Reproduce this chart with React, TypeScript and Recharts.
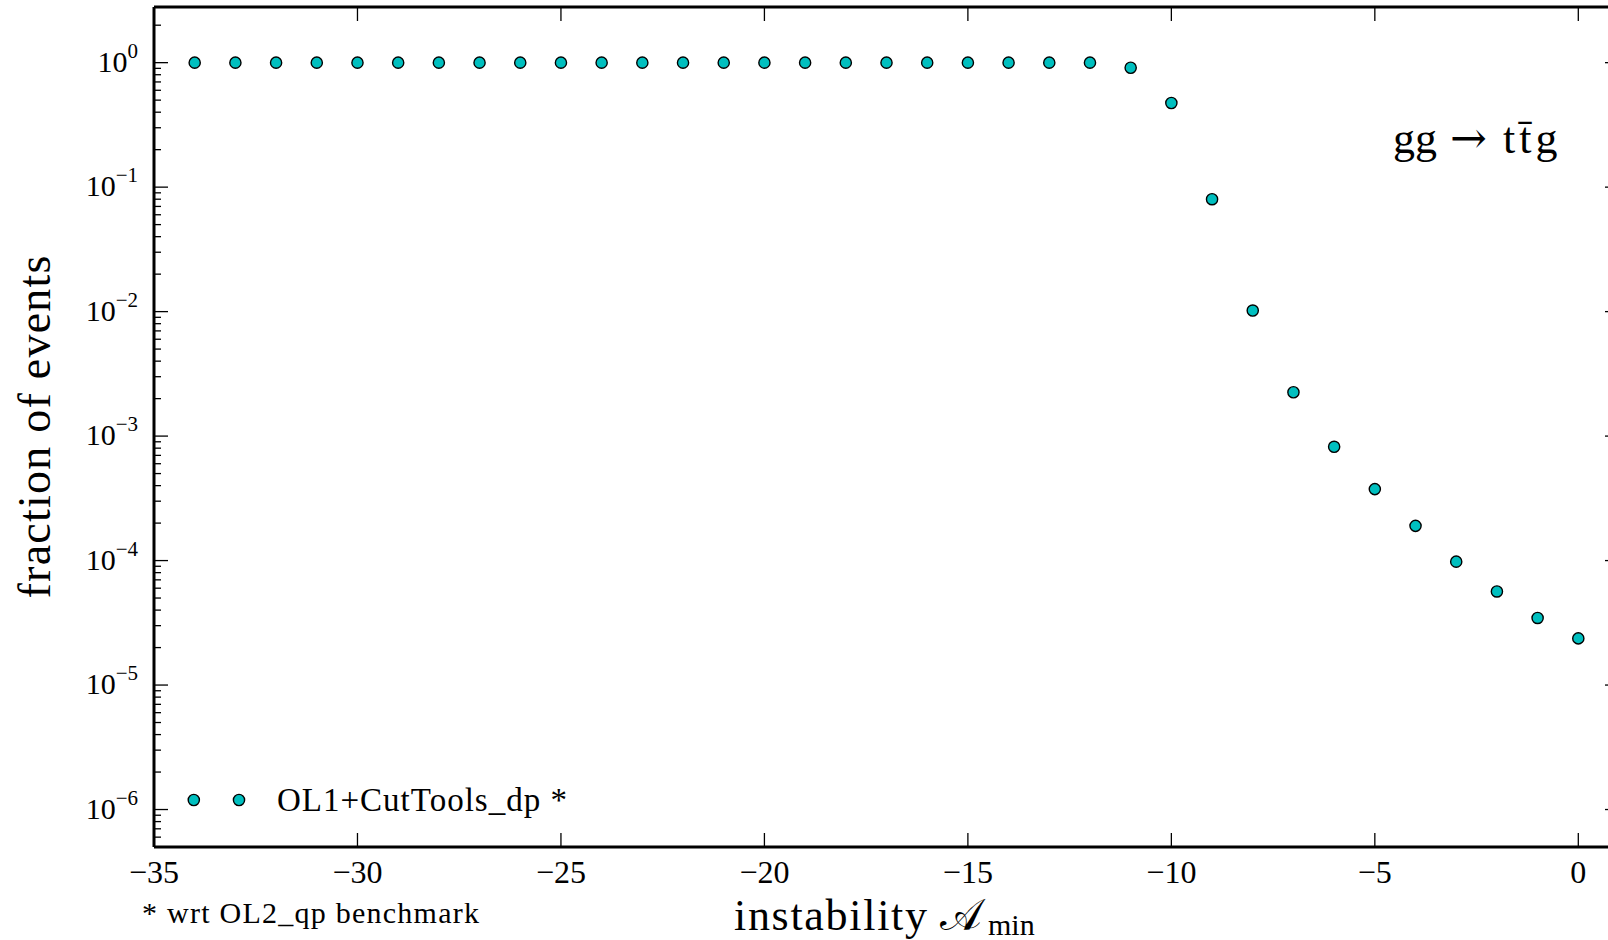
import { ScatterChart, Scatter, XAxis, YAxis, Legend, Customized, ReferenceLine } from "recharts";

// instability A_min (x) and fraction of events (y)
const xValues = [
  -34, -33, -32, -31, -30, -29, -28, -27, -26, -25, -24, -23, -22, -21, -20, -19, -18,
  -17, -16, -15, -14, -13, -12, -11, -10, -9, -8, -7, -6, -5, -4, -3, -2, -1, 0,
];
const fractionValues = [
  1, 1, 1, 1, 1, 1, 1, 1, 1, 1, 1, 1, 1, 1, 1, 1, 1,
  1, 1, 1, 1, 1, 1, 0.91, 0.474, 0.08, 0.0102, 0.00225, 0.00082, 0.000375, 0.00019,
  0.000098, 0.0000565, 0.0000346, 0.0000237,
];

const xTicks = [-35, -30, -25, -20, -15, -10, -5, 0];
const yMajorTicks = [1e-6, 1e-5, 1e-4, 1e-3, 1e-2, 1e-1, 1];
const yMinorMantissas = [2, 3, 4, 5, 6, 7, 8, 9];
const yMinorDecades = [1e-7, 1e-6, 1e-5, 1e-4, 1e-3, 1e-2, 1e-1, 1];

const X_DOMAIN: [number, number] = [-35, 1];
const Y_DOMAIN: [number, number] = [5e-7, 2.8];

const yMinorTicks = yMinorDecades
  .flatMap((d) => yMinorMantissas.map((m) => m * d))
  .filter((v) => v >= Y_DOMAIN[0] && v <= Y_DOMAIN[1]);

const data = xValues.map((x, i) => ({ x, y: fractionValues[i] }));

const FONT = '"Liberation Serif", "DejaVu Serif", serif';
const MARKER = "#00BFBF";

const spine = { stroke: "#000", strokeWidth: 3 };

function XTick({ x, y, payload }: any) {
  const v = payload.value;
  const s = v < 0 ? `\u2212${-v}` : `${v}`;
  return (
    <text x={x} y={y + 36} textAnchor="middle" fontFamily={FONT} fontSize={32} fill="#000">
      {s}
    </text>
  );
}

function YTick({ x, y, payload }: any) {
  const e = Math.round(Math.log10(payload.value));
  const s = e < 0 ? `\u2212${-e}` : `${e}`;
  return (
    <text x={x} y={y + 9} textAnchor="end" fontFamily={FONT} fontSize={30} fill="#000">
      10
      <tspan dy={-14} fontSize={21}>
        {s}
      </tspan>
    </text>
  );
}

// inward tick stubs on both spines, drawn from reference-line endpoints
const makeXMark = (len: number) => (p: any) => {
  const top = Math.min(p.y1, p.y2);
  const bottom = Math.max(p.y1, p.y2);
  return (
    <g stroke="#000" strokeWidth={1.3}>
      <line x1={p.x1} x2={p.x1} y1={bottom} y2={bottom - len} />
      <line x1={p.x1} x2={p.x1} y1={top} y2={top + len} />
    </g>
  );
};
const makeYMark = (len: number) => (p: any) => {
  const left = Math.min(p.x1, p.x2);
  const right = Math.max(p.x1, p.x2);
  return (
    <g stroke="#000" strokeWidth={1.3}>
      <line x1={left} x2={left + len} y1={p.y1} y2={p.y1} />
      <line x1={right} x2={right - len} y1={p.y1} y2={p.y1} />
    </g>
  );
};
const XMajor = makeXMark(14);
const YMajor = makeYMark(14);
const YMinor = makeYMark(7);

const Dot = ({ cx, cy }: any) => (
  <circle cx={cx} cy={cy} r={5.6} fill={MARKER} stroke="#000" strokeWidth={1.4} />
);

const LegendBox = () => (
  <div
    style={{
      display: "flex",
      alignItems: "center",
      fontFamily: FONT,
      fontSize: 33,
      letterSpacing: 1,
      color: "#000",
      height: 38,
      whiteSpace: "nowrap",
    }}
  >
    <svg width={101} height={38}>
      <circle cx={17.8} cy={19} r={5.6} fill={MARKER} stroke="#000" strokeWidth={1.4} />
      <circle cx={63} cy={19} r={5.6} fill={MARKER} stroke="#000" strokeWidth={1.4} />
    </svg>
    <span>OL1+CutTools_dp *</span>
  </div>
);

const Annotations = () => (
  <g fontFamily={FONT} fill="#000">
    <text y={153} fontSize={44}>
      <tspan x={1393}>gg</tspan>
      <tspan x={1450} fontFamily='"DejaVu Serif", serif' fontSize={44}>→</tspan>
      <tspan x={1503} letterSpacing={4}>tt̄g</tspan>
    </text>
    <text x={142} y={923} fontSize={30} textLength={337} lengthAdjust="spacing">
      * wrt OL2_qp benchmark
    </text>
    <text
      transform="translate(50, 427) rotate(-90)"
      textAnchor="middle"
      fontSize={46}
      textLength={343}
      lengthAdjust="spacing"
    >
      fraction of events
    </text>
    <text x={734} y={930} fontSize={44} textLength={193} lengthAdjust="spacing">
      instability
    </text>
    <text x={940} y={930} fontSize={44}>
      𝒜
    </text>
    <text x={988} y={935} fontSize={30}>
      min
    </text>
  </g>
);

export default function App() {
  return (
    <div
      style={{
        position: "absolute",
        left: 0,
        top: 0,
        width: 1608,
        height: 940,
        overflow: "hidden",
        background: "#fff",
      }}
    >
      <ScatterChart width={1630} height={940} margin={{ top: 7, right: 11, bottom: 53, left: 0 }}>
        <XAxis
          dataKey="x"
          type="number"
          domain={X_DOMAIN}
          ticks={xTicks}
          interval={0}
          allowDataOverflow
          height={40}
          tickSize={0}
          tickMargin={0}
          tick={<XTick />}
          axisLine={spine}
          tickLine={false}
        />
        <YAxis
          dataKey="y"
          type="number"
          scale="log"
          domain={Y_DOMAIN}
          ticks={yMajorTicks}
          interval={0}
          allowDataOverflow
          width={154}
          tickSize={0}
          tickMargin={16}
          tick={<YTick />}
          axisLine={spine}
          tickLine={false}
        />
        <ReferenceLine y={Y_DOMAIN[1]} stroke="#000" strokeWidth={3} ifOverflow="visible" />
        <ReferenceLine x={X_DOMAIN[1]} stroke="#000" strokeWidth={3} ifOverflow="visible" />
        {xTicks.map((v) => (
          <ReferenceLine key={`xt${v}`} x={v} ifOverflow="visible" shape={XMajor} />
        ))}
        {yMajorTicks.map((v) => (
          <ReferenceLine key={`yt${v}`} y={v} ifOverflow="visible" shape={YMajor} />
        ))}
        {yMinorTicks.map((v) => (
          <ReferenceLine key={`ym${v}`} y={v} ifOverflow="visible" shape={YMinor} />
        ))}
        <Scatter
          name="OL1+CutTools_dp *"
          data={data}
          shape={<Dot />}
          isAnimationActive={false}
        />
        <Legend
          verticalAlign="middle"
          align="center"
          layout="horizontal"
          wrapperStyle={{ position: "absolute", left: 176, top: 781, width: 440, height: 38 }}
          content={<LegendBox />}
        />
        <Customized component={<Annotations />} />
      </ScatterChart>
    </div>
  );
}
